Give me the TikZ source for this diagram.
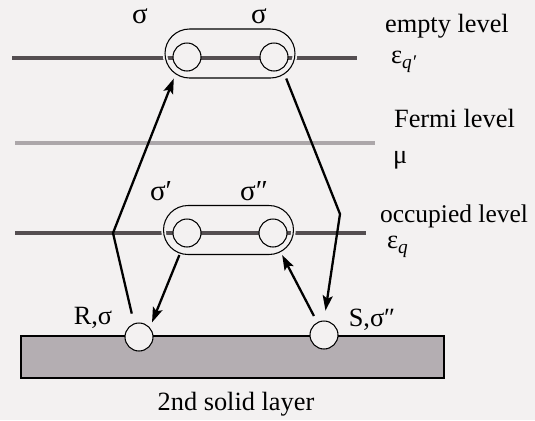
\documentclass[tikz,border=0pt]{standalone}
\usepackage{fontspec}
\setmainfont{Liberation Serif}
\usetikzlibrary{arrows.meta}
\definecolor{PaperWhite}{RGB}{243,241,241}
\definecolor{LevelGray}{RGB}{84,78,81}
\definecolor{FermiGray}{RGB}{172,167,170}
\definecolor{LayerGray}{RGB}{180,174,178}

\begin{document}
\begin{tikzpicture}[x=0.02cm, y=-0.02cm,
    every node/.style={font=\fontsize{15}{18}\selectfont, inner sep=1pt},
    levelline/.style={line width=2.1pt, LevelGray},
    fermiline/.style={line width=2.1pt, FermiGray},
    capsule/.style={draw, line width=0.6pt, rounded corners=0.49cm, minimum width=2.6cm, minimum height=0.98cm, inner sep=0pt, preaction={draw=PaperWhite, line width=2.6pt}},
    site/.style={circle, draw, line width=0.6pt, fill=PaperWhite, minimum size=0.56cm, inner sep=0pt},
    conn/.style={line width=1.3pt, line join=round},
    jump/.style={-{Stealth[length=3mm, width=2mm, inset=0.6mm]}}]

    \fill[PaperWhite] (0,0) rectangle (535,420);
    \useasboundingbox (0,0) rectangle (535,420);

    % energy levels
    \draw[levelline] (12,58) -- (357,58);
    \draw[fermiline] (15,143) -- (375,143);
    \draw[levelline] (15,233) -- (366,233);

    % 2nd solid layer
    \draw[line width=0.6pt, fill=LayerGray] (21,336) rectangle (444,378);

    % pair states
    \node[capsule] (empty) at (230,53.5) {};
    \node[site] (emptyL) at (187,57) {};
    \node[site] (emptyR) at (274,57) {};
    \node[capsule] (occ) at (228.5,230) {};
    \node[site] (occL) at (187,233) {};
    \node[site] (occR) at (273,233) {};

    % surface sites
    \node[site] (R) at (139,337) {};
    \node[site] (S) at (324,335) {};

    \coordinate (bendL) at (113,233);
    \coordinate (bendR) at (340,214);

    \draw[conn, jump, shorten <=2mm] (R.110) -- (bendL) -- (empty.204);
    \draw[conn, jump, shorten >=2mm] (empty.336) -- (bendR) -- (S.north);
    \draw[conn, jump, shorten >=1.1mm] (occ.207) -- (R.41);
    \draw[conn, jump, shorten <=1.4mm] (S.118) -- (occ.335);

    % labels
    \node[font=\fontsize{16.5}{18}\selectfont] (sigE1) at (140,16) {σ};
    \node[font=\fontsize{16.5}{18}\selectfont] (sigE2) at (259,16) {σ};
    \node[font=\fontsize{16.5}{18}\selectfont] (sigO1) at (161,191) {σ′};
    \node[font=\fontsize{16.5}{18}\selectfont] (sigO2) at (254,191) {σ″};
    \node (labR) at (93,318) {R,σ};
    \node (labS) at (372,320) {S,σ″};
    \node[anchor=base west] (emptytxt) at (383,32) {empty level};
    \node[anchor=west] (epsE) at (389,62) {ε\raisebox{-0.4ex}{\fontsize{11}{11}\selectfont\itshape q\/′}};
    \node[anchor=base west] (fermitxt) at (392,127) {Fermi level};
    \node[anchor=west] (mu) at (391,160) {μ};
    \node[anchor=base west, font=\fontsize{14.5}{17}\selectfont] (occtxt) at (378,222) {occupied level};
    \node[anchor=west] (epsO) at (385,247) {ε\raisebox{-0.4ex}{\fontsize{11}{11}\selectfont\itshape q}};
    \node (layertxt) at (236,404) {2nd solid layer};
  \end{tikzpicture}
\end{document}
